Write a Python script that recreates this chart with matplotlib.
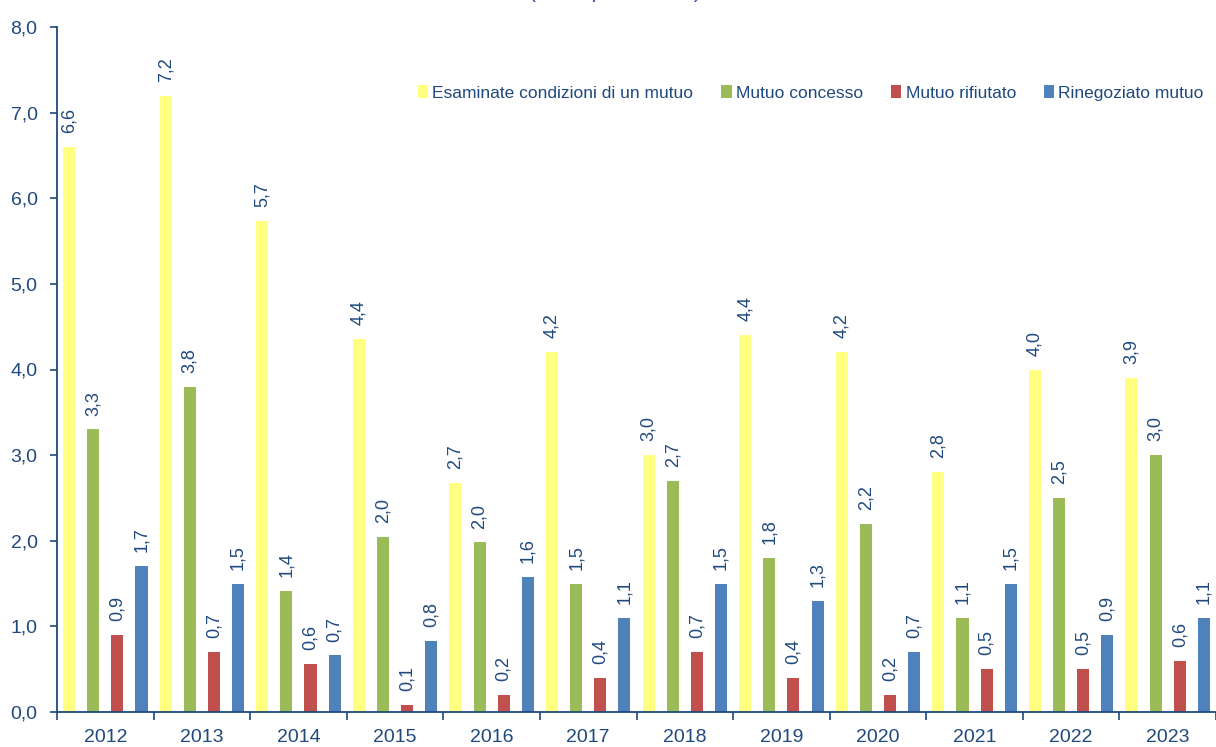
import numpy as np
import matplotlib
matplotlib.use("Agg")
from matplotlib import pyplot as plt
from matplotlib.patches import Patch

plt.rcParams['font.family'] = ['Liberation Sans', 'DejaVu Sans']

years = ['2012', '2013', '2014', '2015', '2016', '2017', '2018', '2019', '2020', '2021', '2022', '2023']
series_names = ['Esaminate condizioni di un mutuo', 'Mutuo concesso', 'Mutuo rifiutato', 'Rinegoziato mutuo']
esaminate = [6.6, 7.2, 5.74, 4.36, 2.67, 4.2, 3.0, 4.4, 4.2, 2.8, 4.0, 3.9]
concesso = [3.3, 3.8, 1.41, 2.04, 1.98, 1.5, 2.7, 1.8, 2.2, 1.1, 2.5, 3.0]
rifiutato = [0.9, 0.7, 0.56, 0.08, 0.2, 0.4, 0.7, 0.4, 0.2, 0.5, 0.5, 0.6]
rinegoziato = [1.71, 1.5, 0.66, 0.83, 1.58, 1.1, 1.5, 1.3, 0.7, 1.5, 0.9, 1.1]
colors = ['#FFFF80', '#9BBB59', '#C0504D', '#4F81BD']
title = '(valori percentuali)'

txt = '#1F497D'

fig = plt.figure(figsize=(12.16, 7.47), dpi=100)
ax = fig.add_axes([57 / 1216, 1 - 712 / 747, 1 - 57 / 1216, (712 - 27) / 747])

x = np.arange(len(years)) + 0.5
offsets = [-0.375, -0.125, 0.125, 0.375]
w = 0.125
for vals, off, col in zip([esaminate, concesso, rifiutato, rinegoziato], offsets, colors):
    ax.bar(x + off, vals, width=w, color=col, edgecolor='none')
    for xi, v in zip(x + off, vals):
        ax.annotate(f'{v:.1f}'.replace('.', ','), (xi, v), xytext=(0, 10),
                    textcoords='offset points', rotation=90, ha='center', va='bottom',
                    fontsize=13, color=txt)

ax.set_xlim(0, 12)
ax.set_ylim(0, 8)
ax.set_yticks(np.arange(0, 8.1, 1))
ax.set_yticklabels([f'{v:.1f}'.replace('.', ',') for v in np.arange(0, 8.1, 1)])
ax.set_xticks(np.arange(0, 13))
ax.set_xticklabels([])
ax.set_xticks(x, minor=True)
ax.set_xticklabels(years, minor=True)
ax.tick_params(axis='x', which='minor', length=0, pad=12, labelsize=14, labelcolor=txt)
ax.tick_params(axis='x', which='major', length=6, width=1.2, color=txt)
ax.tick_params(axis='y', length=5, width=1.2, color=txt, labelsize=14, labelcolor=txt, pad=9)
for s in ['top', 'right']:
    ax.spines[s].set_visible(False)
for s in ['left', 'bottom']:
    ax.spines[s].set_color(txt)
    ax.spines[s].set_linewidth(1.3)

handles = [Patch(facecolor=c, edgecolor='none') for c in colors]
fig.legend(handles, series_names, loc='center right', bbox_to_anchor=(1.0, 1 - 93 / 747),
           ncol=4, frameon=False, fontsize=12.5, labelcolor=txt, handlelength=0.6,
           handleheight=0.75, handletextpad=0.25, columnspacing=1.6, borderaxespad=0.3)

fig.text(615 / 1216, 1 + 2 / 747, title, ha='center', va='baseline', fontsize=15, color='#4B45B0')

fig.savefig('out.png', dpi=100)
